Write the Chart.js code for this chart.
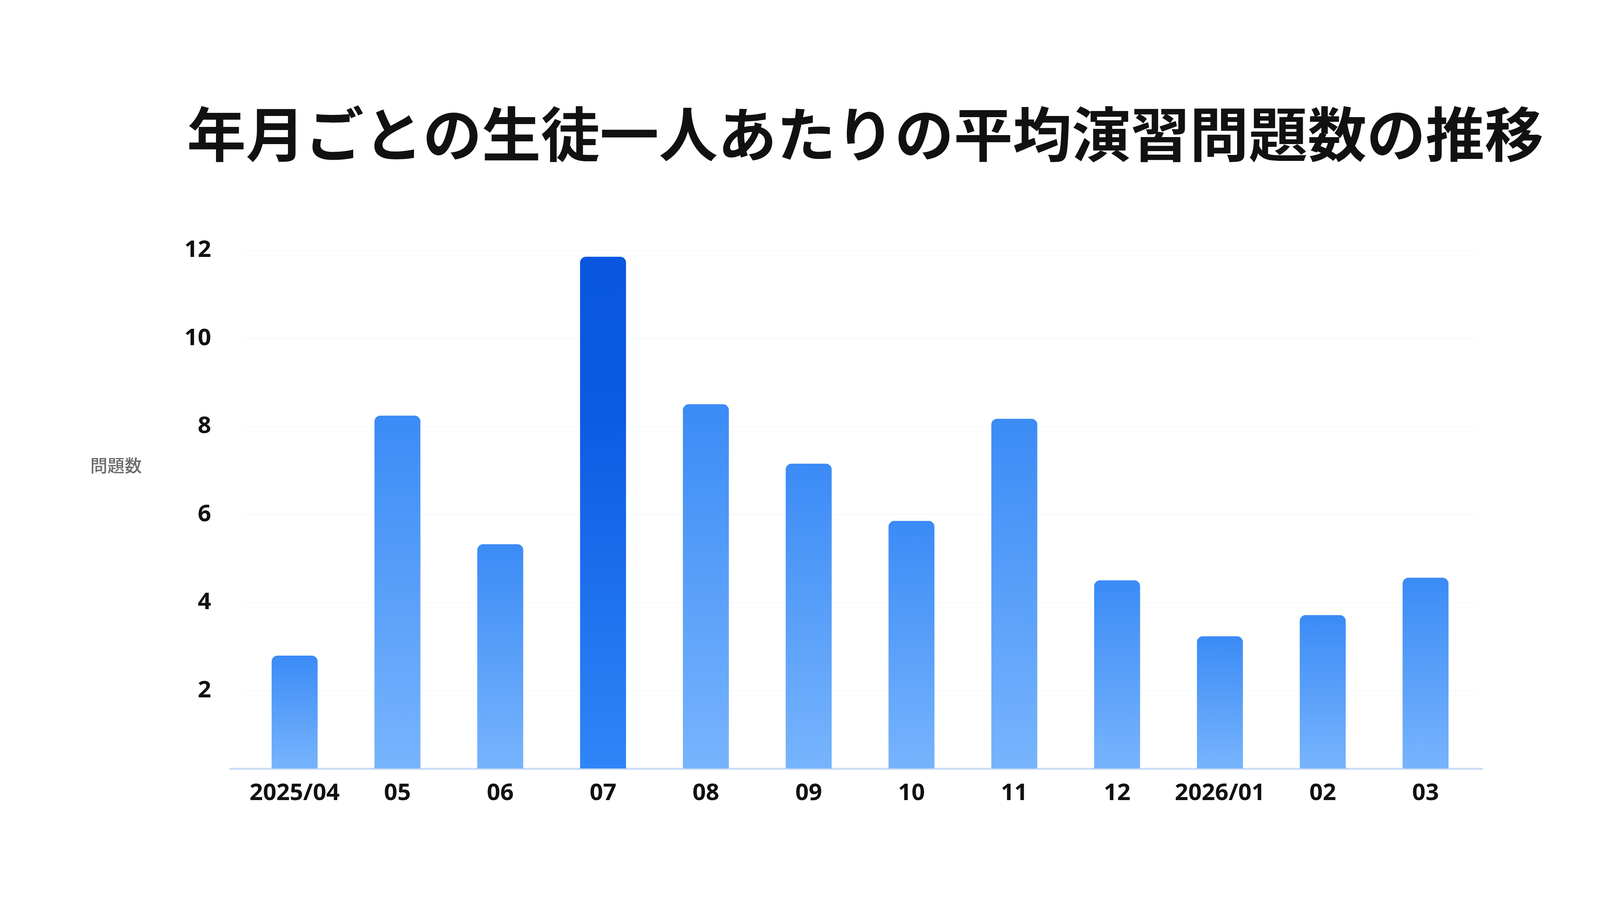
<!DOCTYPE html>
<html lang="ja">
<head>
  <meta charset="UTF-8">
  <title>年月ごとの生徒一人あたりの平均演習問題数の推移</title>
  <style>
    html, body { margin: 0; padding: 0; background: #ffffff; }
    #wrap { width: 4400px; height: 2310px; }
  </style>
</head>
<body>
  <div id="wrap">
    <canvas id="myChart" width="4400" height="2310"></canvas>
  </div>

  <script src="https://cdn.jsdelivr.net/npm/chart.js"></script>
  <script>
    const chartTitle = '年月ごとの生徒一人あたりの平均演習問題数の推移';
    const axisTitle = '問題数';
    const months = ['2025/04', '05', '06', '07', '08', '09', '10', '11', '12', '2026/01', '02', '03'];
    const avgProblems = [2.79, 8.24, 5.32, 11.85, 8.50, 7.15, 5.85, 8.17, 4.50, 3.23, 3.71, 4.56];
    const yTicks = [2, 4, 6, 8, 10, 12];
    const yFloor = 0.23;

    const peakIndex = avgProblems.indexOf(Math.max(...avgProblems));

    // gradient per bar: darker on top, lighter at the base
    function barFill(context) {
      const peak = context.dataIndex === peakIndex;
      const top = peak ? '#0a56df' : '#3b8bf6';
      const bottom = peak ? '#2f86f8' : '#77b4fd';
      const chart = context.chart;
      const area = chart.chartArea;
      if (!area || context.type !== 'data') return top;
      const yTop = chart.scales.y.getPixelForValue(avgProblems[context.dataIndex]);
      const g = chart.ctx.createLinearGradient(0, yTop, 0, area.bottom);
      g.addColorStop(0, top);
      if (peak) g.addColorStop(0.3, '#0c5ae2');
      g.addColorStop(1, bottom);
      return g;
    }

    // title, horizontal axis title and the long base line
    const extras = {
      id: 'extras',
      beforeDatasetsDraw(chart) {
        const ctx = chart.ctx;
        const a = chart.chartArea;
        ctx.save();
        ctx.strokeStyle = '#c9dbf6';
        ctx.lineWidth = 5;
        ctx.beginPath();
        ctx.moveTo(a.left - 35, a.bottom + 1);
        ctx.lineTo(a.right + 16, a.bottom + 1);
        ctx.stroke();
        ctx.restore();
      },
      afterDraw(chart) {
        const ctx = chart.ctx;
        ctx.save();
        ctx.textAlign = 'center';
        ctx.textBaseline = 'middle';
        ctx.fillStyle = '#111111';
        ctx.font = 'bold 151px "Noto Sans CJK JP"';
        ctx.fillText(chartTitle, chart.width / 2 + 15, 344);
        ctx.fillStyle = '#6b6b6b';
        ctx.font = '500 44px "Noto Sans CJK JP"';
        ctx.fillText(axisTitle, 297, 1192);
        ctx.restore();
      }
    };

    const ctx = document.getElementById('myChart').getContext('2d');

    new Chart(ctx, {
      type: 'bar',
      data: {
        labels: months,
        datasets: [{
          label: axisTitle,
          data: avgProblems,
          backgroundColor: barFill,
          borderWidth: 0,
          borderRadius: { topLeft: 15, topRight: 15 },
          borderSkipped: 'start',
          barThickness: 117
        }]
      },
      options: {
        responsive: false,
        devicePixelRatio: 1,
        animation: false,
        layout: {
          padding: { top: 641, left: 390, right: 619, bottom: 222 }
        },
        scales: {
          x: {
            grid: { display: false },
            border: { display: false },
            ticks: {
              color: '#111111',
              padding: 20,
              maxRotation: 0,
              autoSkip: false,
              font: { family: 'Noto Sans', size: 60, weight: 'bold' }
            }
          },
          y: {
            min: yFloor,
            max: 12,
            afterBuildTicks: axis => {
              axis.ticks = yTicks.map(v => ({ value: v }));
            },
            grid: {
              color: 'rgba(214, 227, 247, 0.25)',
              lineWidth: 2,
              drawTicks: false
            },
            border: { display: false },
            ticks: {
              color: '#111111',
              padding: 82,
              font: { family: 'Noto Sans', size: 60, weight: 'bold' }
            }
          }
        },
        plugins: {
          legend: { display: false },
          tooltip: { enabled: false },
          title: { display: false }
        }
      },
      plugins: [extras]
    });
  </script>
</body>
</html>
